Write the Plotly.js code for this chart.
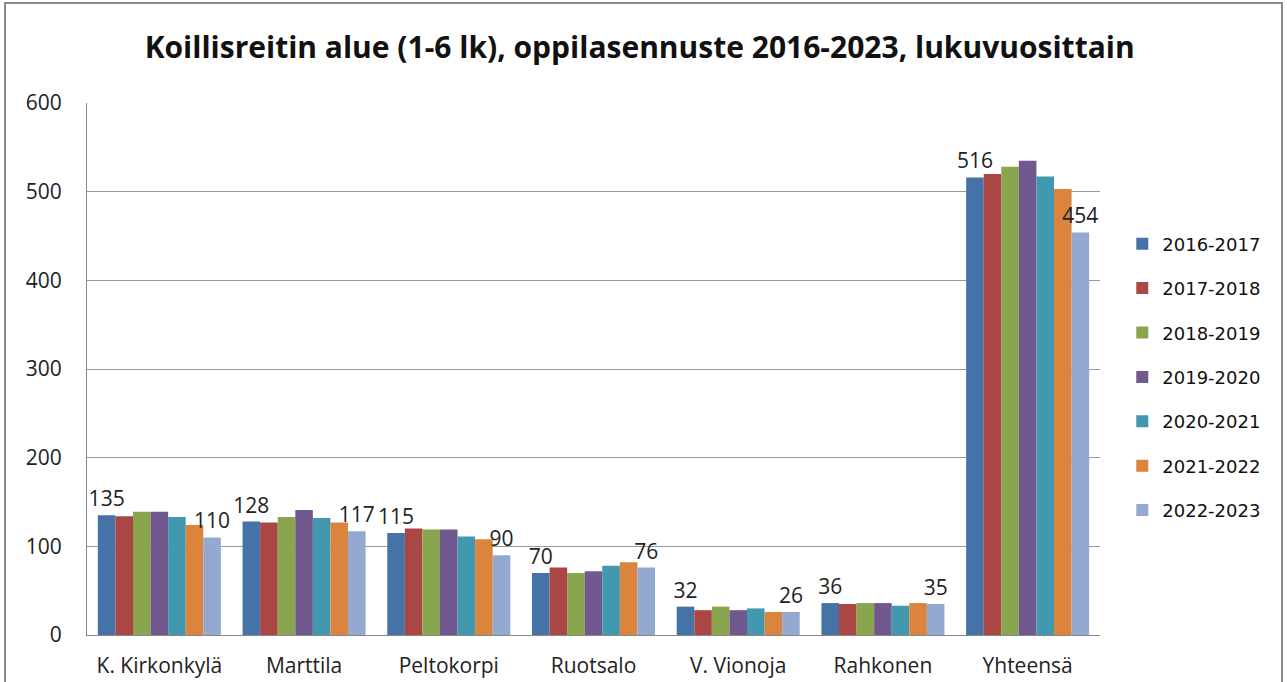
<!DOCTYPE html>
<html>
<head>
<meta charset="utf-8">
<script src="https://cdn.plot.ly/plotly-3.0.1.min.js"></script>
<style>
  html, body { margin: 0; padding: 0; background: #fff; overflow: hidden; }
  #chart { width: 1287px; height: 682px; }
  #frame {
    position: absolute; left: 4px; top: 2px; width: 1275px; height: 690px;
    border: 2px solid #8a8a8a; pointer-events: none;
  }
</style>
</head>
<body>
<div id="chart"></div>
<div id="frame"></div>
<script>
const AREAS = ["K. Kirkonkylä", "Marttila", "Peltokorpi", "Ruotsalo", "V. Vionoja", "Rahkonen", "Yhteensä"];
const YEARS = ["2016-2017", "2017-2018", "2018-2019", "2019-2020", "2020-2021", "2021-2022", "2022-2023"];
const COLORS = ["#4572A7", "#AA4643", "#89A54E", "#71588F", "#4198AF", "#DB843D", "#93A9CF"];

// one array per school year, in AREAS order
const Y2016 = [135, 128, 115, 70, 32, 36, 516];
const Y2017 = [134, 127, 120, 76, 28, 35, 520];
const Y2018 = [139, 133, 119, 70, 32, 36, 528];
const Y2019 = [139, 141, 119, 72, 28, 36, 535];
const Y2020 = [133, 132, 111, 78, 30, 33, 517];
const Y2021 = [124, 127, 108, 82, 26, 36, 503];
const Y2022 = [110, 117, 90, 76, 26, 35, 454];

const SERIES = [Y2016, Y2017, Y2018, Y2019, Y2020, Y2021, Y2022];
// only first and last year carry value labels
const LABELLED = [0, 6];

const FONT = "'Open Sans', 'Noto Sans', sans-serif";

const traces = SERIES.map((vals, i) => ({
  type: 'bar',
  name: YEARS[i],
  x: AREAS,
  y: vals,
  legendgroup: 'g' + i,
  marker: { color: COLORS[i], line: { width: 0 } },
  text: LABELLED.includes(i) ? vals.map(String) : vals.map(() => ''),
  textposition: 'outside',
  constraintext: 'none',
  cliponaxis: false,
  textfont: { family: FONT, size: 21, color: '#222' },
  hoverinfo: 'x+y+name'
}));

const layout = {
  width: 1287,
  height: 682,
  margin: { t: 103, r: 187, b: 47, l: 87, autoexpand: false },
  paper_bgcolor: '#fff',
  plot_bgcolor: '#fff',
  font: { family: FONT, size: 21, color: '#222' },
  title: {
    text: '<b>Koillisreitin alue (1-6 lk), oppilasennuste 2016-2023, lukuvuosittain</b>',
    font: { family: FONT, size: 30, color: '#111' },
    x: 0.497, xanchor: 'center',
    y: 0.93, yanchor: 'middle'
  },
  barmode: 'group',
  bargap: 0.15,
  bargroupgap: 0,
  xaxis: {
    showline: true, linecolor: '#888', linewidth: 1,
    ticks: '', ticklabelstandoff: 12,
    tickfont: { family: FONT, size: 21, color: '#222' },
    showgrid: false
  },
  yaxis: {
    range: [0, 600], dtick: 100,
    showline: true, linecolor: '#888', linewidth: 1,
    showgrid: true, gridcolor: '#999', gridwidth: 1,
    ticks: '', ticklabelstandoff: 20,
    tickfont: { family: FONT, size: 21, color: '#222' },
    zeroline: false
  },
  legend: {
    x: 1.022, xanchor: 'left',
    y: 0.485, yanchor: 'middle',
    font: { family: "'DejaVu Sans', sans-serif", size: 18, color: '#111' },
    tracegroupgap: 18,
    itemwidth: 30,
    bgcolor: 'rgba(0,0,0,0)'
  },
  showlegend: true
};

Plotly.newPlot('chart', traces, layout, { displayModeBar: false, responsive: false });
</script>
</body>
</html>
